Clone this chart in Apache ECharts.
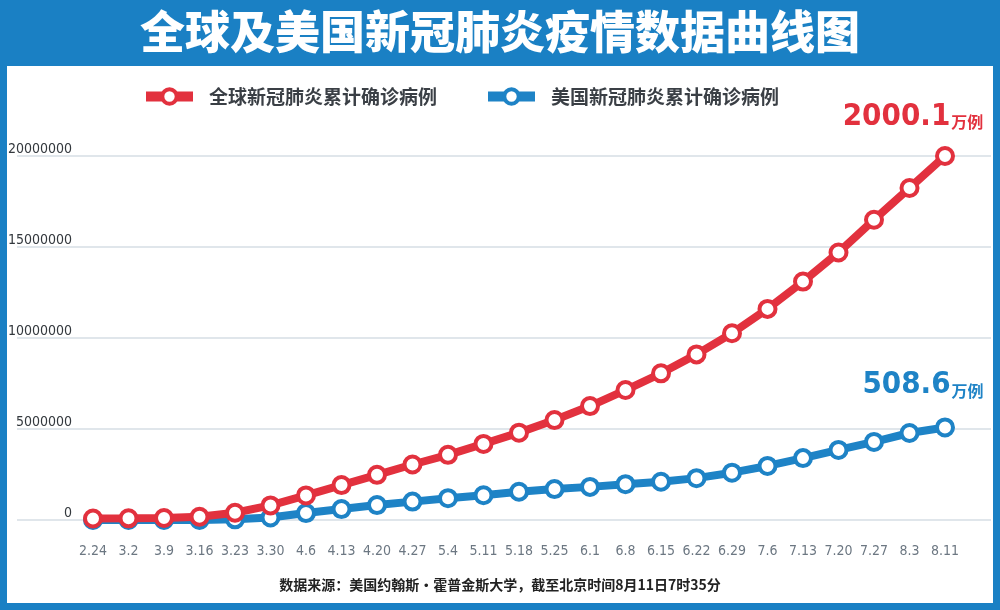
<!DOCTYPE html>
<html><head><meta charset="utf-8">
<script src="https://cdn.jsdelivr.net/npm/echarts@6/dist/echarts.min.js"></script>
<style>html,body{margin:0;padding:0;background:#1a80c4}#c{width:1000px;height:610px}</style>
</head><body><div id="c"></div>
<script>
const categories = ['2.24','3.2','3.9','3.16','3.23','3.30','4.6','4.13','4.20','4.27','5.4','5.11','5.18','5.25','6.1','6.8','6.15','6.22','6.29','7.6','7.13','7.20','7.27','8.3','8.11'];
const globalCases = [80000, 90000, 110000, 180000, 400000, 800000, 1350000, 1920000, 2480000, 3050000, 3580000, 4180000, 4800000, 5490000, 6260000, 7140000, 8060000, 9100000, 10260000, 11600000, 13100000, 14700000, 16500000, 18240000, 20001000];
const usCases = [35, 100, 500, 4000, 35000, 140000, 380000, 600000, 820000, 1010000, 1200000, 1360000, 1550000, 1700000, 1820000, 1970000, 2100000, 2300000, 2600000, 2970000, 3400000, 3850000, 4290000, 4780000, 5086000];
const seriesNames = ['全球新冠肺炎累计确诊病例', '美国新冠肺炎累计确诊病例'];
const titleText = '全球及美国新冠肺炎疫情数据曲线图';
const footerText = '数据来源：美国约翰斯·霍普金斯大学，截至北京时间8月11日7时35分';
const unitText = '万例';

const RED = '#e2313e', BLUE = '#1e83c6', FRAME = '#1a80c4';
const CJK = '"Noto Sans CJK SC", sans-serif';
const NARROW = '"Liberation Sans Narrow", "DejaVu Sans Condensed", Roboto, sans-serif';

function withEndLabel(arr, color, offset) {
  return arr.map((v, i) => i !== arr.length - 1 ? v : {
    value: v,
    label: {
      show: true, position: 'top', offset: offset,
      formatter: '{a|' + (v / 10000).toFixed(1) + '}{b|' + unitText + '}',
      rich: {
        a: { fontSize: 31, fontWeight: 'bold', color: color, fontFamily: NARROW, verticalAlign: 'bottom' },
        b: { fontSize: 16, fontWeight: 'bold', color: color, fontFamily: CJK, verticalAlign: 'bottom', padding: [0, 0, 2, 1] }
      }
    }
  });
}

const chart = echarts.init(document.getElementById('c'), null, { renderer: 'canvas' });
chart.setOption({
  animation: false,
  backgroundColor: FRAME,
  graphic: [{ type: 'rect', z: -10, silent: true, shape: { x: 7, y: 66, width: 986, height: 537 }, style: { fill: '#ffffff' } }],
  title: [
    { text: titleText, left: 'center', top: 4, textStyle: { color: '#fff', fontSize: 45, fontWeight: 900, fontFamily: CJK } },
    { text: footerText, left: 'center', top: 573, textStyle: { color: '#222', fontSize: 14, fontWeight: 'bold', fontFamily: CJK } }
  ],
  legend: {
    left: 141, top: 87, padding: 0, itemWidth: 47, itemHeight: 18, itemGap: 46,
    data: seriesNames,
    lineStyle: { width: 10 },
    itemStyle: { borderWidth: 4 },
    textStyle: { fontSize: 19, fontWeight: 'bold', color: '#3a3f45', fontFamily: CJK, padding: [0, 0, 0, 11] }
  },
  grid: [
    { left: 17, right: 9, top: 156, bottom: 90 },
    { left: 93, right: 55, top: 156, bottom: 90 }
  ],
  xAxis: [
    { gridIndex: 0, type: 'value', min: 0, max: 1, show: false },
    { gridIndex: 1, type: 'category', boundaryGap: false, data: categories,
      axisLine: { show: false }, axisTick: { show: false }, splitLine: { show: false },
      axisLabel: { interval: 0, margin: 24, fontSize: 14, color: '#6c7782', fontFamily: NARROW } }
  ],
  yAxis: [
    { gridIndex: 0, type: 'value', min: 0, max: 20000000, interval: 5000000,
      axisLine: { show: false }, axisTick: { show: false },
      splitLine: { lineStyle: { color: '#d6dee5', width: 1.5 } },
      axisLabel: { inside: true, align: 'right', verticalAlign: 'bottom', margin: 55, fontSize: 14, color: '#33383d', fontFamily: NARROW,
        formatter: v => String(v) } },
    { gridIndex: 1, type: 'value', min: 0, max: 20000000, interval: 5000000, show: false }
  ],
  series: [
    { name: seriesNames[1], type: 'line', xAxisIndex: 1, yAxisIndex: 1, z: 3,
      data: withEndLabel(usCases, BLUE, [-22, -12]),
      symbol: 'circle', symbolSize: 16, showAllSymbol: true,
      lineStyle: { color: BLUE, width: 8 },
      itemStyle: { color: '#fff', borderColor: BLUE, borderWidth: 4 },
      emphasis: { disabled: true } },
    { name: seriesNames[0], type: 'line', xAxisIndex: 1, yAxisIndex: 1, z: 4,
      data: withEndLabel(globalCases, RED, [-32, -9]),
      symbol: 'circle', symbolSize: 16, showAllSymbol: true,
      lineStyle: { color: RED, width: 8 },
      itemStyle: { color: '#fff', borderColor: RED, borderWidth: 4 },
      emphasis: { disabled: true } }
  ]
});
</script></body></html>
